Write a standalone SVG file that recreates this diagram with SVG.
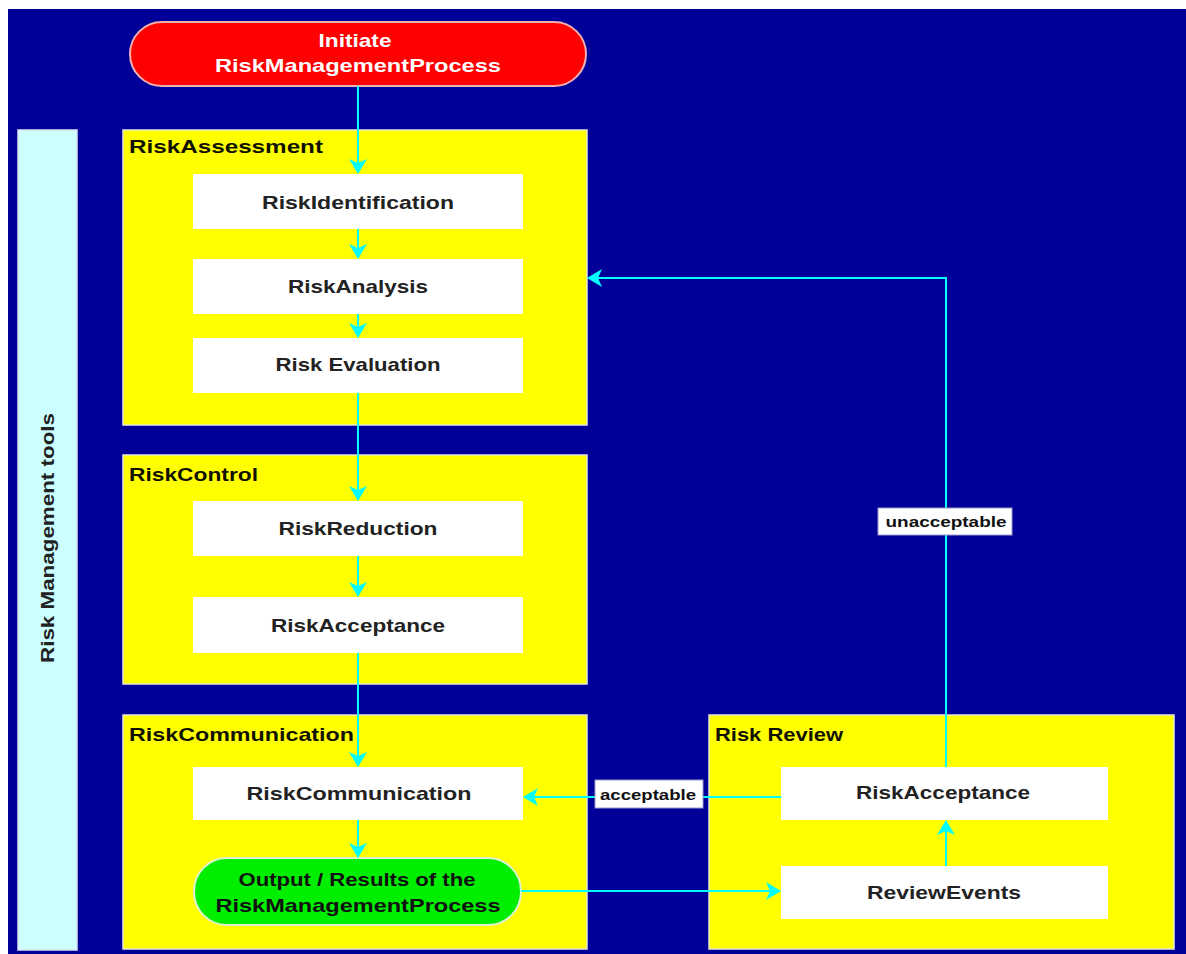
<svg xmlns="http://www.w3.org/2000/svg" width="1186" height="954" viewBox="0 0 1186 954">
  <defs>
    <marker id="arrow" viewBox="0 0 15 18" refX="14" refY="9" markerWidth="15" markerHeight="18" markerUnits="userSpaceOnUse" orient="auto">
      <path d="M0,0 L15,9 L0,18 L4,9 Z" fill="#00FFFF"/>
    </marker>
    <style>
      text { font-family: "Liberation Sans", Arial, sans-serif; font-weight: bold; }
      .stage { fill: #FFFF00; stroke: #E8E8D0; stroke-width: 1.5; }
      .step { fill: #FFFFFF; }
      .stage-title { font-size: 19px; fill: #111100; }
      .step-label { font-size: 19px; fill: #222222; text-anchor: middle; }
      .flow { fill: none; stroke: #00FFFF; stroke-width: 2; }
      .edge-tag { fill: #FFFFFF; stroke: #9999CC; stroke-width: 1; }
      .edge-label { font-size: 15px; fill: #111111; text-anchor: middle; }
    </style>
  </defs>

  <!-- page -->
  <rect x="0" y="0" width="1186" height="954" fill="#FFFFFF"/>
  <rect x="8" y="9" width="1178" height="945" fill="#000099"/>

  <!-- side band -->
  <g id="tools">
    <rect x="18" y="130" width="59" height="820" fill="#CCFFFF" stroke="#E0E0F0" stroke-width="1.5"/>
    <text transform="translate(54,663) rotate(-90)" font-size="19" fill="#222222" textLength="250" lengthAdjust="spacingAndGlyphs">Risk Management tools</text>
  </g>

  <!-- start -->
  <g id="start">
    <rect x="130" y="22" width="456" height="64" rx="32" ry="32" fill="#FF0000" stroke="#F0B0B0" stroke-width="2"/>
    <text x="355" y="47" font-size="19" fill="#FFFFFF" text-anchor="middle" textLength="73" lengthAdjust="spacingAndGlyphs">Initiate</text>
    <text x="358" y="72" font-size="19" fill="#FFFFFF" text-anchor="middle" textLength="286" lengthAdjust="spacingAndGlyphs">RiskManagementProcess</text>
  </g>

  <!-- assessment stage -->
  <g id="risk-assessment">
    <rect class="stage" x="123" y="130" width="464" height="295"/>
    <text class="stage-title" x="129" y="153" textLength="194" lengthAdjust="spacingAndGlyphs">RiskAssessment</text>
  </g>
  <g id="risk-identification">
    <rect class="step" x="193" y="174" width="330" height="55"/>
    <text class="step-label" x="358" y="209" textLength="192" lengthAdjust="spacingAndGlyphs">RiskIdentification</text>
  </g>
  <g id="risk-analysis">
    <rect class="step" x="193" y="259" width="330" height="55"/>
    <text class="step-label" x="358" y="293" textLength="140" lengthAdjust="spacingAndGlyphs">RiskAnalysis</text>
  </g>
  <g id="risk-evaluation">
    <rect class="step" x="193" y="338" width="330" height="55"/>
    <text class="step-label" x="358" y="371" textLength="165" lengthAdjust="spacingAndGlyphs">Risk Evaluation</text>
  </g>

  <!-- control stage -->
  <g id="risk-control">
    <rect class="stage" x="123" y="455" width="464" height="229"/>
    <text class="stage-title" x="129" y="481" textLength="129" lengthAdjust="spacingAndGlyphs">RiskControl</text>
  </g>
  <g id="risk-reduction">
    <rect class="step" x="193" y="501" width="330" height="55"/>
    <text class="step-label" x="358" y="535" textLength="159" lengthAdjust="spacingAndGlyphs">RiskReduction</text>
  </g>
  <g id="risk-acceptance-control">
    <rect class="step" x="193" y="597" width="330" height="56"/>
    <text class="step-label" x="358" y="632" textLength="174" lengthAdjust="spacingAndGlyphs">RiskAcceptance</text>
  </g>

  <!-- communication stage -->
  <g id="risk-communication-stage">
    <rect class="stage" x="123" y="715" width="464" height="234"/>
    <text class="stage-title" x="129" y="741" textLength="225" lengthAdjust="spacingAndGlyphs">RiskCommunication</text>
  </g>
  <g id="risk-communication">
    <rect class="step" x="193" y="767" width="330" height="53"/>
    <text class="step-label" x="359" y="800" textLength="225" lengthAdjust="spacingAndGlyphs">RiskCommunication</text>
  </g>
  <g id="output">
    <rect x="194" y="858" width="327" height="67" rx="33" ry="33" fill="#00EE00" stroke="#E0F0D0" stroke-width="2"/>
    <text x="357" y="886" font-size="19" fill="#111111" text-anchor="middle" textLength="237" lengthAdjust="spacingAndGlyphs">Output / Results of the</text>
    <text x="358" y="912" font-size="19" fill="#111111" text-anchor="middle" textLength="285" lengthAdjust="spacingAndGlyphs">RiskManagementProcess</text>
  </g>

  <!-- review stage -->
  <g id="risk-review">
    <rect class="stage" x="709" y="715" width="465" height="234"/>
    <text class="stage-title" x="715" y="741" textLength="128" lengthAdjust="spacingAndGlyphs">Risk Review</text>
  </g>
  <g id="risk-acceptance-review">
    <rect class="step" x="781" y="767" width="327" height="53"/>
    <text class="step-label" x="943" y="799" textLength="174" lengthAdjust="spacingAndGlyphs">RiskAcceptance</text>
  </g>
  <g id="review-events">
    <rect class="step" x="781" y="866" width="327" height="53"/>
    <text class="step-label" x="944" y="899" textLength="154" lengthAdjust="spacingAndGlyphs">ReviewEvents</text>
  </g>

  <!-- connectors -->
  <g id="connectors">
    <line class="flow" x1="358" y1="86" x2="358" y2="173" marker-end="url(#arrow)"/>
    <line class="flow" x1="358" y1="229" x2="358" y2="258" marker-end="url(#arrow)"/>
    <line class="flow" x1="358" y1="314" x2="358" y2="337" marker-end="url(#arrow)"/>
    <line class="flow" x1="358" y1="393" x2="358" y2="500" marker-end="url(#arrow)"/>
    <line class="flow" x1="358" y1="556" x2="358" y2="596" marker-end="url(#arrow)"/>
    <line class="flow" x1="358" y1="653" x2="358" y2="766" marker-end="url(#arrow)"/>
    <line class="flow" x1="358" y1="820" x2="358" y2="857" marker-end="url(#arrow)"/>
    <line class="flow" x1="521" y1="891" x2="780" y2="891" marker-end="url(#arrow)"/>
    <line class="flow" x1="946" y1="866" x2="946" y2="821" marker-end="url(#arrow)"/>
    <line class="flow" x1="781" y1="797" x2="524" y2="797" marker-end="url(#arrow)"/>
    <polyline class="flow" points="946,767 946,278 588,278" marker-end="url(#arrow)"/>

    <g id="label-acceptable">
      <rect class="edge-tag" x="595" y="780" width="108" height="28"/>
      <text class="edge-label" x="648" y="800" textLength="96" lengthAdjust="spacingAndGlyphs">acceptable</text>
    </g>
    <g id="label-unacceptable">
      <rect class="edge-tag" x="878" y="508" width="134" height="27"/>
      <text class="edge-label" x="946" y="527" textLength="121" lengthAdjust="spacingAndGlyphs">unacceptable</text>
    </g>
  </g>
</svg>
